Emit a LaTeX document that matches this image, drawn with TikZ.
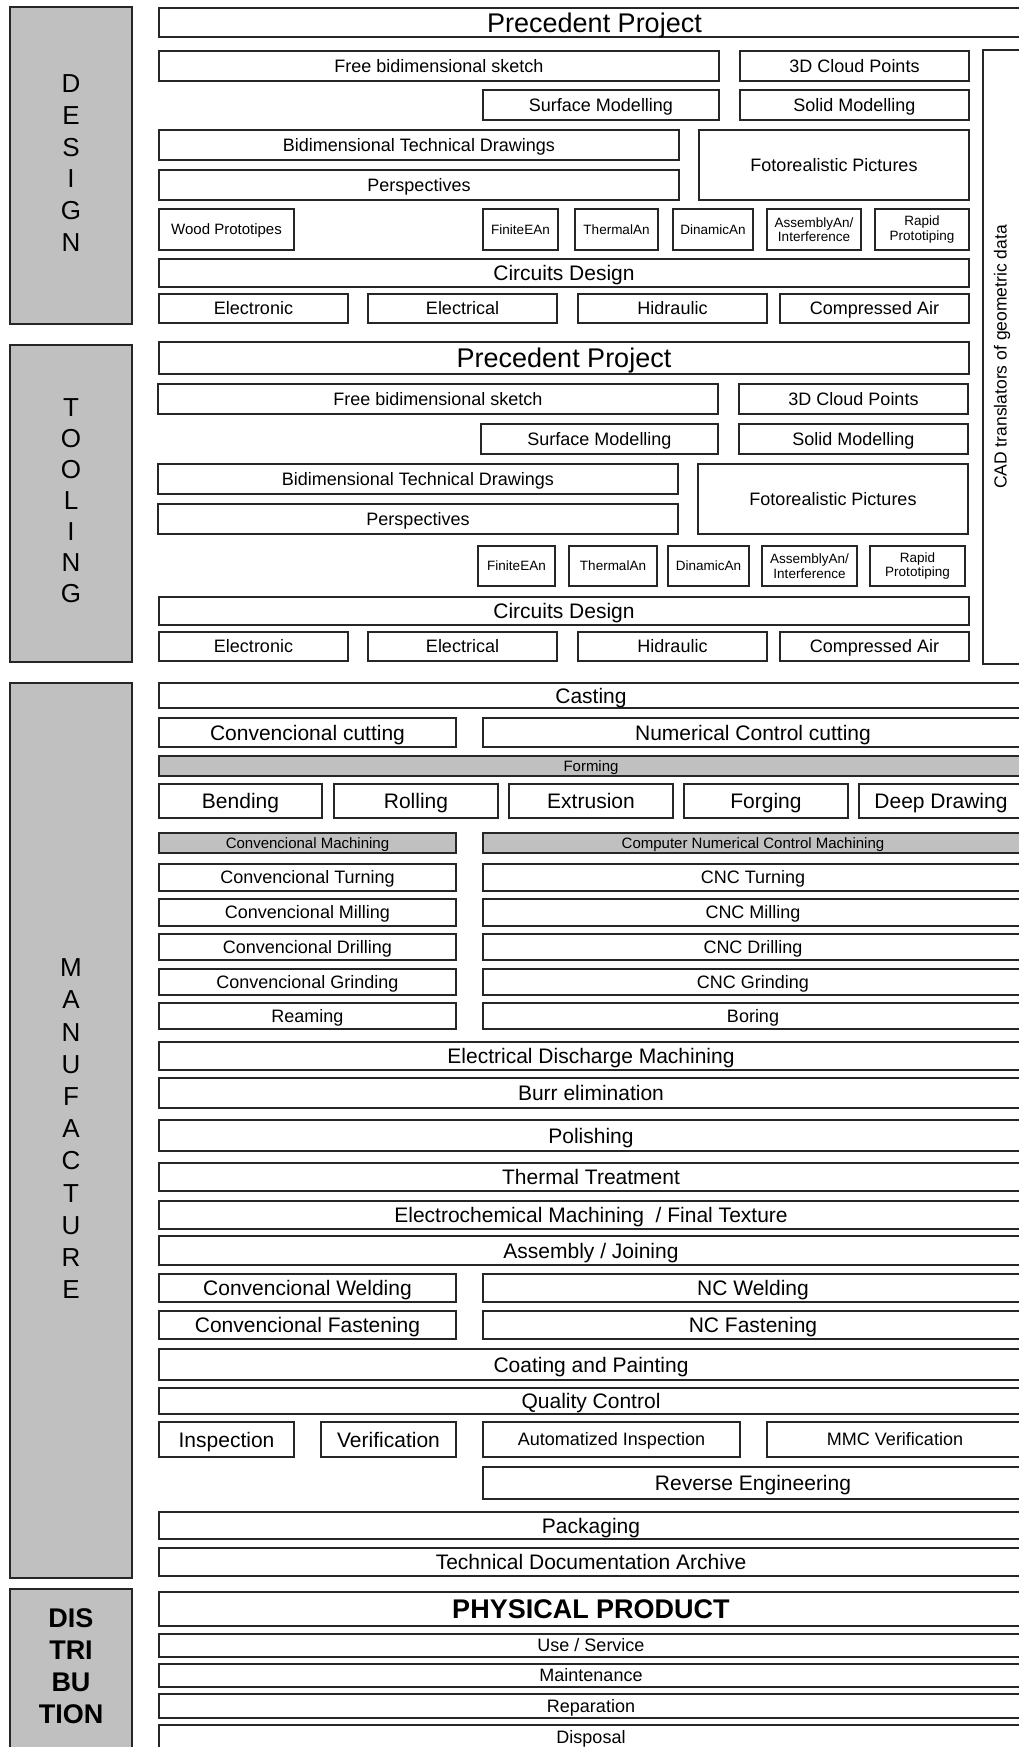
\documentclass[tikz,border=0pt]{standalone}
\usepackage{fontspec}
\setmainfont{Liberation Sans}
\definecolor{panelgrey}{RGB}{192,192,192}
% box from corner (x1,y1) to corner (x2,y2)
\newcommand{\cell}[7][]{%
  \node[cellbox,#1,minimum width={(#5-#3)*1pt},minimum height={(#6-#4)*1pt}] (#2) at ({(#3+#5)/2},{(#4+#6)/2}) {#7};}

\begin{document}
\begin{tikzpicture}[x=1pt,y=-1pt,
  cellbox/.style={draw=black!85,line width=1.3pt,fill=white,inner sep=0pt,align=center,
    font=\fontsize{18}{20}\selectfont,text height=12.9pt,text depth=0pt},
  ttl/.style={font=\fontsize{27}{30}\selectfont,text height=19.3pt},
  lrg/.style={font=\fontsize{21}{24}\selectfont,text height=15pt},
  sml/.style={font=\fontsize{15}{17}\selectfont,text height=10.7pt},
  tny/.style={font=\fontsize{13.5}{14.5}\selectfont,text height=9.7pt},
  twoline/.style={text height={},text depth={}},
  greybar/.style={fill=panelgrey},
  phase/.style={fill=panelgrey},
  letter/.style={font=\fontsize{26}{28}\selectfont},
  bletter/.style={font=\fontsize{27}{30}\selectfont\bfseries}]
  \useasboundingbox (0,0) rectangle (1019,1747);
  \fill[white] (0,0) rectangle (1019,1747);
  \clip (0,0) rectangle (1019,1747);

  % phase panels
  \cell[phase]{designpanel}{10}{7}{132}{324}{}
  \cell[phase]{toolpanel}{10}{345}{132}{662}{}
  \cell[phase]{manupanel}{10}{683}{132}{1578}{}
  \cell[phase]{distpanel}{10}{1589}{132}{1765}{}
  \foreach \ch [count=\i] in {D,E,S,I,G,N}
    \node[letter] (des\i) at (71,{83.5+31.85*(\i-1)}) {\ch};
  \foreach \ch [count=\i] in {T,O,O,L,I,N,G}
    \node[letter] (too\i) at (71,{407.6+31*(\i-1)}) {\ch};
  \foreach \ch [count=\i] in {M,A,N,U,F,A,C,T,U,R,E}
    \node[letter] (man\i) at (71,{967.8+32.19*(\i-1)}) {\ch};
  \foreach \ch [count=\i] in {DIS,TRI,BU,TION}
    \node[bletter] (dis\i) at (71,{1618+32*(\i-1)}) {\ch};

  % CAD translators
  \cell{cad}{983}{50}{1023}{664}{}
  \node[rotate=90,font=\fontsize{17.5}{19}\selectfont] (cadtext) at ([xshift=-1pt]cad.center) {CAD translators of geometric data};

  % design
  \cell[ttl]{dpp}{159}{8}{1030}{37}{Precedent Project}
  \cell{dsketch}{159}{51}{719}{81}{Free bidimensional sketch}
  \cell{dcloud}{740}{51}{969}{81}{3D Cloud Points}
  \cell{dsurf}{483}{90}{719}{120}{Surface Modelling}
  \cell{dsolid}{740}{90}{969}{120}{Solid Modelling}
  \cell{dtech}{159}{130}{679}{160}{Bidimensional Technical Drawings}
  \cell{dpersp}{159}{170}{679}{200}{Perspectives}
  \cell{dphoto}{699}{130}{969}{200}{Fotorealistic Pictures}
  \cell[sml]{dwood}{159}{209}{294}{250}{Wood Prototipes}
  \cell[tny]{dfea}{483}{209}{558}{250}{FiniteEAn}
  \cell[tny]{dtherm}{575}{209}{658}{250}{ThermalAn}
  \cell[tny]{ddyn}{673}{209}{753}{250}{DinamicAn}
  \cell[tny,twoline]{dasm}{767}{209}{861}{250}{AssemblyAn/\\Interference}
  \cell[tny,twoline]{drapid}{875}{209}{969}{250}{Rapid\\Prototiping}
  \cell[lrg]{dcirc}{159}{259}{969}{287}{Circuits Design}
  \cell{delec}{159}{294}{348}{323}{Electronic}
  \cell{delct}{368}{294}{557}{323}{Electrical}
  \cell{dhyd}{578}{294}{767}{323}{Hidraulic}
  \cell{dair}{780}{294}{969}{323}{Compressed Air}

  % tooling
  \cell[ttl]{tpp}{159}{342}{969}{374}{Precedent Project}
  \cell{tsketch}{158}{384}{718}{414}{Free bidimensional sketch}
  \cell{tcloud}{739}{384}{968}{414}{3D Cloud Points}
  \cell{tsurf}{481}{424}{718}{454}{Surface Modelling}
  \cell{tsolid}{739}{424}{968}{454}{Solid Modelling}
  \cell{ttech}{158}{464}{678}{494}{Bidimensional Technical Drawings}
  \cell{tpersp}{158}{504}{678}{534}{Perspectives}
  \cell{tphoto}{698}{464}{968}{534}{Fotorealistic Pictures}
  \cell[tny]{tfea}{478}{546}{555}{586}{FiniteEAn}
  \cell[tny]{ttherm}{569}{546}{657}{586}{ThermalAn}
  \cell[tny]{tdyn}{668}{546}{749}{586}{DinamicAn}
  \cell[tny,twoline]{tasm}{762}{546}{857}{586}{AssemblyAn/\\Interference}
  \cell[tny,twoline]{trapid}{870}{546}{965}{586}{Rapid\\Prototiping}
  \cell[lrg]{tcirc}{159}{597}{969}{625}{Circuits Design}
  \cell{telec}{159}{632}{348}{661}{Electronic}
  \cell{telct}{368}{632}{557}{661}{Electrical}
  \cell{thyd}{578}{632}{767}{661}{Hidraulic}
  \cell{tair}{780}{632}{969}{661}{Compressed Air}

  % manufacture
  \cell[lrg]{cast}{159}{683}{1023}{708}{Casting}
  \cell[lrg]{ccut}{159}{718}{456}{747}{Convencional cutting}
  \cell[lrg]{nccut}{483}{718}{1023}{747}{Numerical Control cutting}
  \cell[greybar,sml]{forming}{159}{756}{1023}{776}{Forming}
  \cell[lrg]{bend}{159}{784}{322}{818}{Bending}
  \cell[lrg]{roll}{334}{784}{498}{818}{Rolling}
  \cell[lrg]{extr}{509}{784}{673}{818}{Extrusion}
  \cell[lrg]{forg}{684}{784}{848}{818}{Forging}
  \cell[lrg]{deep}{859}{784}{1023}{818}{Deep Drawing}
  \cell[greybar,sml]{cmach}{159}{833}{456}{853}{Convencional Machining}
  \cell[greybar,sml]{ncmach}{483}{833}{1023}{853}{Computer Numerical Control Machining}
  \cell{cturn}{159}{864}{456}{891}{Convencional Turning}
  \cell{ncturn}{483}{864}{1023}{891}{CNC Turning}
  \cell{cmill}{159}{899}{456}{926}{Convencional Milling}
  \cell{ncmill}{483}{899}{1023}{926}{CNC Milling}
  \cell{cdrill}{159}{934}{456}{960}{Convencional Drilling}
  \cell{ncdrill}{483}{934}{1023}{960}{CNC Drilling}
  \cell{cgrind}{159}{969}{456}{995}{Convencional Grinding}
  \cell{ncgrind}{483}{969}{1023}{995}{CNC Grinding}
  \cell{ream}{159}{1003}{456}{1029}{Reaming}
  \cell{bore}{483}{1003}{1023}{1029}{Boring}
  \cell[lrg]{edm}{159}{1042}{1023}{1070}{Electrical Discharge Machining}
  \cell[lrg]{burr}{159}{1078}{1023}{1108}{Burr elimination}
  \cell[lrg]{polish}{159}{1120}{1023}{1151}{Polishing}
  \cell[lrg]{thermal}{159}{1163}{1023}{1191}{Thermal Treatment}
  \cell[lrg]{ecm}{159}{1201}{1023}{1229}{Electrochemical Machining\ \ / Final Texture}
  \cell[lrg]{assy}{159}{1236}{1023}{1265}{Assembly / Joining}
  \cell[lrg]{cweld}{159}{1274}{456}{1302}{Convencional Welding}
  \cell[lrg]{ncweld}{483}{1274}{1023}{1302}{NC Welding}
  \cell[lrg]{cfast}{159}{1311}{456}{1339}{Convencional Fastening}
  \cell[lrg]{ncfast}{483}{1311}{1023}{1339}{NC Fastening}
  \cell[lrg]{coat}{159}{1349}{1023}{1380}{Coating and Painting}
  \cell[lrg]{qc}{159}{1388}{1023}{1414}{Quality Control}
  \cell[lrg]{insp}{159}{1422}{294}{1457}{Inspection}
  \cell[lrg]{verif}{321}{1422}{456}{1457}{Verification}
  \cell{autoinsp}{483}{1422}{740}{1457}{Automatized Inspection}
  \cell{mmc}{767}{1422}{1023}{1457}{MMC Verification}
  \cell[lrg]{reverse}{483}{1467}{1023}{1499}{Reverse Engineering}
  \cell[lrg]{pack}{159}{1512}{1023}{1539}{Packaging}
  \cell[lrg]{archive}{159}{1548}{1023}{1576}{Technical Documentation Archive}

  % distribution
  \cell[ttl,font=\fontsize{27}{30}\selectfont\bfseries]{phys}{159}{1592}{1023}{1626}{PHYSICAL PRODUCT}
  \cell{use}{159}{1634}{1023}{1657}{Use / Service}
  \cell{maint}{159}{1664}{1023}{1687}{Maintenance}
  \cell{repar}{159}{1694}{1023}{1718}{Reparation}
  \cell{disp}{159}{1725}{1023}{1749}{Disposal}
\end{tikzpicture}
\end{document}
